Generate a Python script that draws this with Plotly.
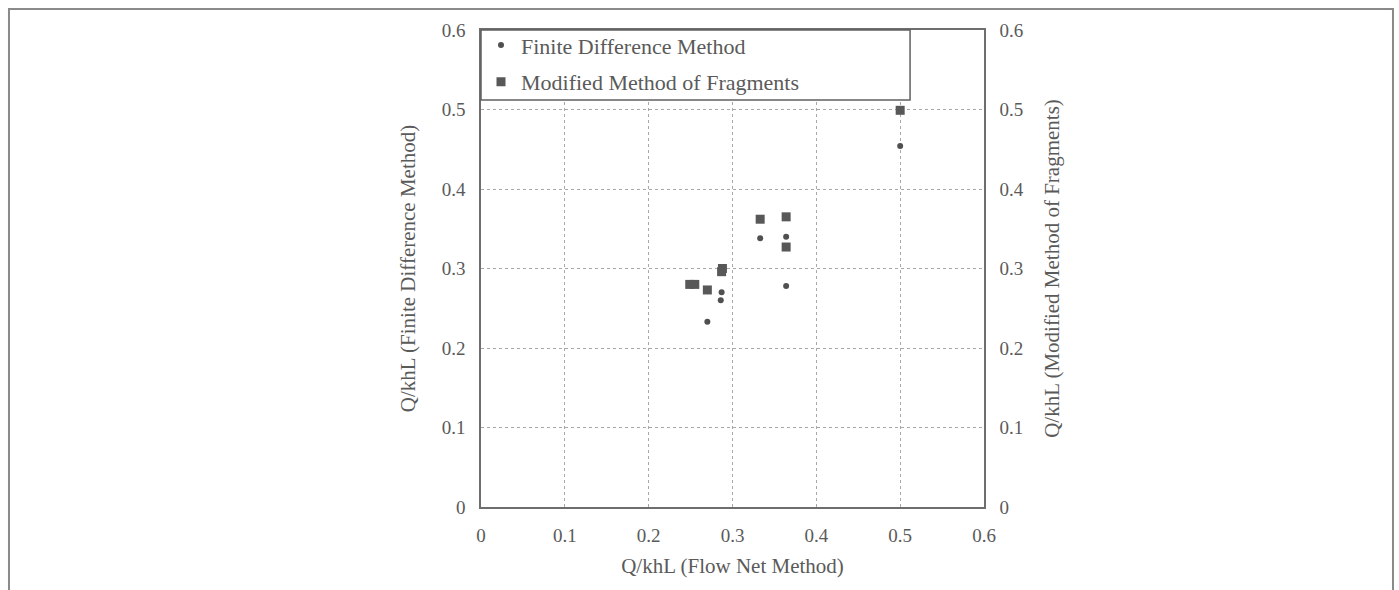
import plotly.graph_objects as go

# Flow net method (x) vs Finite Difference Method (y)
fdm_x = [0.270, 0.287, 0.286, 0.333, 0.364, 0.364, 0.500]
fdm_y = [0.233, 0.270, 0.260, 0.338, 0.340, 0.278, 0.454]

# Flow net method (x) vs Modified Method of Fragments (y)
mmf_x = [0.249, 0.255, 0.270, 0.287, 0.288, 0.333, 0.364, 0.364, 0.500]
mmf_y = [0.280, 0.280, 0.273, 0.296, 0.300, 0.362, 0.365, 0.327, 0.499]

tick_vals = [0, 0.1, 0.2, 0.3, 0.4, 0.5, 0.6]
tick_text = ["0", "0.1", "0.2", "0.3", "0.4", "0.5", "0.6"]

FONT = "Liberation Serif"
TXT = "#5a5a5a"
LINE = "#6e6e6e"

fig = go.Figure()
fig.add_trace(go.Scatter(
    x=fdm_x, y=fdm_y, mode="markers", name="Finite Difference Method",
    marker=dict(symbol="circle", size=6, color="#505050"),
    legendgroup="a", yaxis="y"))
fig.add_trace(go.Scatter(
    x=mmf_x, y=mmf_y, mode="markers", name="Modified Method of Fragments",
    marker=dict(symbol="square", size=9, color="#585858"),
    legendgroup="b", yaxis="y2"))

axis_common = dict(
    range=[0, 0.6], tickvals=tick_vals, ticktext=tick_text,
    showgrid=True, gridcolor="#a8a8a8", griddash="dot", gridwidth=1,
    showline=True, linecolor=LINE, linewidth=1.5,
    ticks="", zeroline=False,
    tickfont=dict(family=FONT, size=19, color=TXT),
)

fig.update_layout(
    width=1399, height=590,
    margin=dict(l=481, r=415, t=30, b=83),
    paper_bgcolor="white", plot_bgcolor="white",
    showlegend=True,
    legend=dict(
        x=0.0, y=1.012, xanchor="left", yanchor="top",
        bgcolor="rgba(0,0,0,0)", borderwidth=0,
        font=dict(family=FONT, size=22, color=TXT),
        tracegroupgap=5, itemsizing="trace",
    ),
    xaxis=dict(
        **axis_common, mirror=True, ticklabelstandoff=10,
        title=dict(text="Q/khL (Flow Net Method)", standoff=14,
                   font=dict(family=FONT, size=21, color=TXT)),
    ),
    yaxis=dict(
        **axis_common, ticklabelstandoff=10,
        title=dict(text="Q/khL (Finite Difference Method)", standoff=20,
                   font=dict(family=FONT, size=21, color=TXT)),
    ),
    yaxis2=dict(
        **axis_common, overlaying="y", side="right", ticklabelstandoff=10,
        title=dict(text="Q/khL (Modified Method of Fragments)", standoff=22,
                   font=dict(family=FONT, size=21, color=TXT)),
    ),
)
fig.update_yaxes(selector=dict(overlaying="y"), showgrid=False)

# legend box (drawn as a shape so it can span the same width as the original)
fig.add_shape(type="rect", xref="paper", yref="paper",
              x0=0, x1=0.853, y0=0.853, y1=1.0,
              line=dict(color="#606060", width=1.5),
              fillcolor="white", layer="above")

# outer frame around the whole figure
fig.add_shape(type="rect", xref="paper", yref="paper",
              x0=-0.9384, x1=1.8131, y0=-0.20, y1=1.044,
              line=dict(color="#8a8a8a", width=2), layer="below")

fig.write_html("out.html")
